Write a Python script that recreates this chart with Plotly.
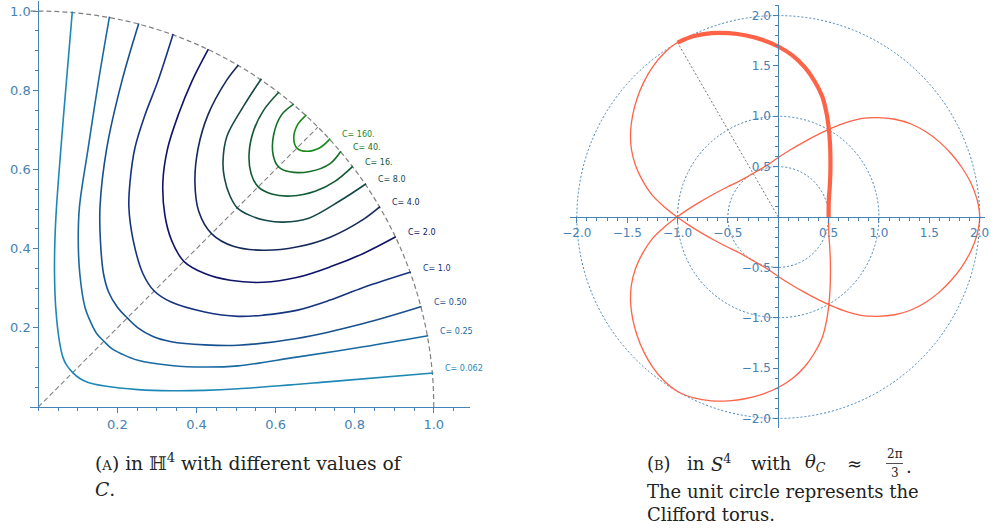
import numpy as np
import plotly.graph_objects as go

# ---------------- Left panel: level curves in H^4 ----------------
# Lower half of each curve, from its crossing of the diagonal to the boundary arc.
c_labels = ["C= 160.", "C= 40.", "C= 16.", "C= 8.0", "C= 4.0",
            "C= 2.0", "C= 1.0", "C= 0.50", "C= 0.25", "C= 0.062"]

c160_x = [0.654, 0.679, 0.712, 0.738]
c160_y = [0.654, 0.646, 0.655, 0.678]
c40_x = [0.607, 0.636, 0.687, 0.738, 0.765]
c40_y = [0.607, 0.594, 0.595, 0.615, 0.646]
c16_x = [0.556, 0.590, 0.640, 0.700, 0.750, 0.795]
c16_y = [0.556, 0.538, 0.533, 0.545, 0.570, 0.608]
c8_x = [0.503, 0.535, 0.577, 0.619, 0.684, 0.763, 0.829]
c8_y = [0.503, 0.484, 0.471, 0.467, 0.477, 0.521, 0.564]
c4_x = [0.438, 0.493, 0.569, 0.653, 0.738, 0.822, 0.864]
c4_y = [0.438, 0.406, 0.396, 0.404, 0.429, 0.474, 0.506]
c2_x = [0.368, 0.421, 0.485, 0.569, 0.653, 0.738, 0.822, 0.904]
c2_y = [0.368, 0.337, 0.320, 0.315, 0.327, 0.354, 0.388, 0.430]
c1_x = [0.293, 0.336, 0.421, 0.505, 0.569, 0.653, 0.738, 0.822, 0.942]
c1_y = [0.293, 0.265, 0.240, 0.229, 0.232, 0.244, 0.270, 0.302, 0.341]
c05_x = [0.225, 0.252, 0.290, 0.336, 0.421, 0.505, 0.653, 0.822, 0.969]
c05_y = [0.225, 0.200, 0.178, 0.165, 0.157, 0.156, 0.173, 0.211, 0.254]
c025_x = [0.166, 0.185, 0.211, 0.252, 0.336, 0.421, 0.505, 0.653, 0.822, 0.986]
c025_y = [0.166, 0.148, 0.134, 0.118, 0.105, 0.101, 0.104, 0.126, 0.152, 0.180]
c0062_x = [0.087, 0.105, 0.126, 0.168, 0.252, 0.336, 0.421, 0.505, 0.738, 0.999]
c0062_y = [0.087, 0.072, 0.062, 0.053, 0.044, 0.041, 0.042, 0.046, 0.064, 0.086]

curves_x = [c160_x, c40_x, c16_x, c8_x, c4_x, c2_x, c1_x, c05_x, c025_x, c0062_x]
curves_y = [c160_y, c40_y, c16_y, c8_y, c4_y, c2_y, c1_y, c05_y, c025_y, c0062_y]
curve_colors = ["#1a8a1a", "#127026", "#125a35", "#164848", "#15295a",
                "#0f1468", "#15337f", "#17508f", "#1a6aa2", "#1d88b5"]

left_ticks = [0.2, 0.4, 0.6, 0.8, 1.0]
left_ticktext = ["0.2", "0.4", "0.6", "0.8", "1.0"]

# ---------------- Right panel: curve in S^4 ----------------
# Fundamental (thick) arc in polar form, from the inner circle to the outer circle.
seg_theta_deg = [0, 10, 20, 30, 40, 50, 55, 60, 65, 70, 75, 80, 85, 90,
                 95, 100, 105, 110, 115, 120]
seg_r = [0.500, 0.508, 0.535, 0.590, 0.675, 0.805, 0.895, 1.005, 1.135, 1.275,
         1.395, 1.510, 1.610, 1.693, 1.765, 1.830, 1.890, 1.943, 1.982, 2.000]
circle_radii = [0.5, 1.0, 2.0]
right_ticks = [-2.0, -1.5, -1.0, -0.5, 0.5, 1.0, 1.5, 2.0]
right_ticktext = ["\u22122.0", "\u22121.5", "\u22121.0", "\u22120.5", "0.5", "1.0", "1.5", "2.0"]

# ---------------- Geometry / layout constants ----------------
W, H = 994, 532
AX = "#4682b4"
L_px = (30, 470)
L_py = (1.1, 407)
Lx_range = [-0.021, 1.0916]
Ly_range = [0.0, 1.0253]
R_px = (570, 985)
R_py = (5, 428)
Rx_range = [-2.068, 2.053]
Ry_range = [-2.095, 2.105]


def px2paper_x(p):
    return p / W


def py2paper_y(p):
    return 1 - p / H


fig = go.Figure()

# --- left panel ---
fig.add_shape(type="circle", xref="x", yref="y", x0=-1, y0=-1, x1=1, y1=1,
              line=dict(color="#808080", width=1.2, dash="5px,3px"), layer="below")
diag_end = np.sqrt(0.5)
fig.add_trace(go.Scatter(x=[0, diag_end], y=[0, diag_end], mode="lines",
                         line=dict(color="#808080", width=1.1, dash="5px,3px"),
                         xaxis="x", yaxis="y", hoverinfo="skip", showlegend=False))

for cx, cy, col in zip(curves_x, curves_y, curve_colors):
    cx = np.array(cx)
    cy = np.array(cy)
    full_x = np.concatenate([cy[::-1], cx[1:]])
    full_y = np.concatenate([cx[::-1], cy[1:]])
    fig.add_trace(go.Scatter(x=full_x, y=full_y, mode="lines",
                             line=dict(color=col, width=1.6, shape="spline", smoothing=1.0),
                             xaxis="x", yaxis="y", hoverinfo="skip", showlegend=False))

for cx, cy, col, lab in zip(curves_x, curves_y, curve_colors, c_labels):
    fig.add_annotation(x=cx[-1], y=cy[-1], xref="x", yref="y", text=lab,
                       showarrow=False, xanchor="left", yanchor="middle",
                       xshift=10, yshift=4,
                       font=dict(family="DejaVu Sans", size=8, color=col))

# --- right panel ---
for r in circle_radii:
    fig.add_shape(type="circle", xref="x2", yref="y2", x0=-r, y0=-r, x1=r, y1=r,
                  line=dict(color=AX, width=1, dash="2px,2px"), layer="below")

th = np.deg2rad(np.array(seg_theta_deg, dtype=float))
rr = np.array(seg_r)
seg_x = rr * np.cos(th)
seg_y = rr * np.sin(th)
P = np.array([seg_x, seg_y])
M = np.array([[1, 0], [0, -1]])


def rot(deg):
    a = np.deg2rad(deg)
    return np.array([[np.cos(a), -np.sin(a)], [np.sin(a), np.cos(a)]])


MP = M @ P
segs = [P,
        (rot(240) @ MP)[:, ::-1],
        rot(240) @ P,
        (rot(120) @ MP)[:, ::-1],
        rot(120) @ P,
        MP[:, ::-1]]
fx = [segs[0][0]] + [s[0][1:] for s in segs[1:]]
fy = [segs[0][1]] + [s[1][1:] for s in segs[1:]]
full_x = np.concatenate(fx)
full_y = np.concatenate(fy)

fig.add_trace(go.Scatter(x=[0, seg_x[-1]], y=[0, seg_y[-1]], mode="lines",
                         line=dict(color="#777777", width=1, dash="2px,2px"),
                         xaxis="x2", yaxis="y2", hoverinfo="skip", showlegend=False))
fig.add_trace(go.Scatter(x=full_x, y=full_y, mode="lines",
                         line=dict(color="#ff6347", width=1.3, shape="spline"),
                         xaxis="x2", yaxis="y2", hoverinfo="skip", showlegend=False))
fig.add_trace(go.Scatter(x=seg_x, y=seg_y, mode="lines",
                         line=dict(color="#ff6347", width=4.2, shape="spline"),
                         xaxis="x2", yaxis="y2", hoverinfo="skip", showlegend=False))

tickfont_l = dict(family="DejaVu Sans", size=13, color=AX)
tickfont_r = dict(family="DejaVu Sans", size=12, color=AX)

common = dict(showgrid=False, zeroline=False, showline=True, linecolor=AX, linewidth=1,
              ticks="outside", ticklen=5, tickcolor=AX, tickwidth=1, tickmode="array",
              automargin=False)

fig.update_layout(
    template="none",
    width=W, height=H, margin=dict(l=0, r=0, t=0, b=0, pad=0, autoexpand=False),
    paper_bgcolor="white", plot_bgcolor="rgba(0,0,0,0)",
    showlegend=False,
    xaxis=dict(domain=[px2paper_x(L_px[0]), px2paper_x(L_px[1])], range=Lx_range,
               anchor="y", tickvals=left_ticks, ticktext=left_ticktext, tickfont=tickfont_l,
               minor=dict(dtick=0.05, tick0=0, ticklen=3, ticks="outside", tickcolor=AX),
               **common),
    yaxis=dict(domain=[py2paper_y(L_py[1]), py2paper_y(L_py[0])], range=Ly_range,
               anchor="free", position=px2paper_x(38.3),
               tickvals=left_ticks, ticktext=left_ticktext, tickfont=tickfont_l,
               minor=dict(dtick=0.05, tick0=0, ticklen=3, ticks="outside", tickcolor=AX),
               **common),
    xaxis2=dict(domain=[px2paper_x(R_px[0]), px2paper_x(R_px[1])], range=Rx_range,
                anchor="free", position=py2paper_y(217),
                tickvals=right_ticks, ticktext=right_ticktext, tickfont=tickfont_r,
                minor=dict(dtick=0.1, tick0=0, ticklen=3, ticks="outside", tickcolor=AX),
                **common),
    yaxis2=dict(domain=[py2paper_y(R_py[1]), py2paper_y(R_py[0])], range=Ry_range,
                anchor="free", position=px2paper_x(778.3),
                tickvals=right_ticks, ticktext=right_ticktext, tickfont=tickfont_r,
                minor=dict(dtick=0.1, tick0=0, ticklen=3, ticks="outside", tickcolor=AX),
                **common),
)

# ---------------- Captions ----------------
CAP = dict(family="DejaVu Serif", size=18, color="#222222")


def cap(px, py, text, size=None, anchor="left"):
    f = dict(CAP)
    if size:
        f["size"] = size
    fig.add_annotation(x=px2paper_x(px), y=py2paper_y(py), xref="paper", yref="paper",
                       text=text, showarrow=False, xanchor=anchor, yanchor="middle", font=f)


cap(93, 462, "(<span style='font-size:13.3px'>A</span>) in \u210d<sup>4</sup> with different values of",
    size=18.7)
cap(93, 489, "<i>C</i>.", size=18.7)

cap(645, 463, "(<span style='font-size:13px'>B</span>)")
cap(685, 463, "in")
cap(709, 463, "<i>S</i><sup>4</sup>")
cap(749, 463, "with")
cap(803, 463, "<i>\u03b8</i><sub><i>C</i></sub>")
cap(845, 463, "\u2248")
cap(894.5, 454, "2\u03c0", size=12, anchor="center")
cap(895, 473, "3", size=12, anchor="center")
cap(904, 466, ".")
fig.add_shape(type="line", xref="paper", yref="paper",
              x0=px2paper_x(886), x1=px2paper_x(903), y0=py2paper_y(463.5), y1=py2paper_y(463.5),
              line=dict(color="#222222", width=0.8))
cap(645, 491, "The unit circle represents the")
cap(645, 514, "Clifford torus.")

fig.write_html("out.html", config={"displayModeBar": False},
               post_script="document.body.style.margin='0px';document.body.style.padding='0px';")
